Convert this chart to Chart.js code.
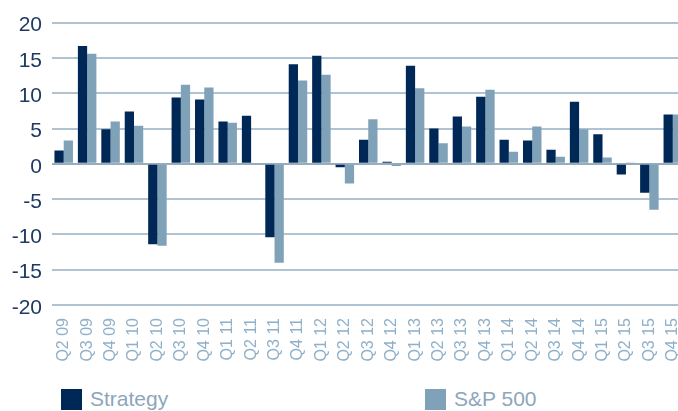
<!DOCTYPE html>
<html>
<head>
<meta charset="utf-8">
<script src="https://cdn.jsdelivr.net/npm/chart.js@4/dist/chart.umd.min.js"></script>
<style>
  html, body { margin: 0; padding: 0; background: #fff; overflow: hidden; }
  #wrap { position: relative; width: 678px; height: 411px; overflow: hidden; }
  #chart { position: absolute; left: 0; top: 0; }
  .leg { position: absolute; top: 389px; height: 21px; font: 21px "Liberation Sans", Arial, sans-serif; color: #8ca6bb; white-space: nowrap; }
  .leg span.box { position: absolute; left: 0; top: 0; width: 21px; height: 21px; }
  .leg span.txt { position: absolute; left: 29px; top: -2px; line-height: 24px; }
</style>
</head>
<body>
<div id="wrap">
  <canvas id="chart" width="705" height="372"></canvas>
</div>
<script>
const quarters = ['Q2 09', 'Q3 09', 'Q4 09', 'Q1 10', 'Q2 10', 'Q3 10', 'Q4 10', 'Q1 11', 'Q2 11',
    'Q3 11', 'Q4 11', 'Q1 12', 'Q2 12', 'Q3 12', 'Q4 12', 'Q1 13', 'Q2 13', 'Q3 13', 'Q4 13',
    'Q1 14', 'Q2 14', 'Q3 14', 'Q4 14', 'Q1 15', 'Q2 15', 'Q3 15', 'Q4 15']
const strategy = [1.9, 16.7, 4.9, 7.4, -11.4, 9.4, 9.1, 6.0, 6.8, -10.4, 14.1, 15.3, -0.5, 3.4, 0.3,
    13.9, 5.0, 6.7, 9.5, 3.4, 3.3, 2.0, 8.8, 4.2, -1.5, -4.1, 7.0]
const sp500 = [3.3, 15.6, 6.0, 5.4, -11.6, 11.2, 10.8, 5.8, 0, -14.0, 11.8, 12.6, -2.8, 6.3, -0.3,
    10.7, 2.9, 5.3, 10.5, 1.7, 5.3, 1.0, 4.9, 0.9, 0.2, -6.5, 7.0]
const yTicks = [-20, -15, -10, -5, 0, 5, 10, 15, 20]

const font = '"Liberation Sans", Arial, sans-serif'

const ctx = document.getElementById('chart').getContext('2d')
const chart = new Chart(ctx, {
    type: 'bar',
    data: {
        labels: quarters,
        datasets: [
            { label: 'Strategy', data: strategy, backgroundColor: '#002856', borderWidth: 0 },
            { label: 'S&P 500', data: sp500, backgroundColor: '#7fa2b9', borderWidth: 0 }
        ]
    },
    options: {
        responsive: false,
        animation: false,
        layout: { padding: { top: 21, right: 0, bottom: 0, left: 0 } },
        datasets: { bar: { categoryPercentage: 0.79, barPercentage: 1 } },
        plugins: { legend: { display: false }, tooltip: { enabled: false } },
        scales: {
            x: {
                grid: { display: false, drawTicks: false },
                border: { display: false },
                ticks: {
                    autoSkip: false, minRotation: 90, maxRotation: 90, padding: 13,
                    color: '#8fb0c8', font: { family: font, size: 16 }
                },
                afterFit: scale => { scale.height = 67 }
            },
            y: {
                min: -20, max: 20,
                afterBuildTicks: scale => { scale.ticks = yTicks.map(v => ({ value: v })) },
                afterFit: scale => { scale.width = 52 },
                grid: {
                    drawTicks: false, lineWidth: 2,
                    color: c => c.tick && c.tick.value === 0 ? '#97adbd' : '#afc3d2'
                },
                border: { display: false },
                ticks: {
                    padding: 10, labelOffset: 3,
                    color: '#1d3a63', font: { family: font, size: 21 }
                }
            }
        }
    }
})

// legend built from the datasets
const wrap = document.getElementById('wrap')
const legendX = [61, 425]
chart.data.datasets.forEach((ds, i) => {
    const item = document.createElement('div')
    item.className = 'leg'
    item.style.left = legendX[i] + 'px'
    const box = document.createElement('span')
    box.className = 'box'
    box.style.background = ds.backgroundColor
    const txt = document.createElement('span')
    txt.className = 'txt'
    txt.textContent = ds.label
    item.appendChild(box)
    item.appendChild(txt)
    wrap.appendChild(item)
})
</script>
</body>
</html>
